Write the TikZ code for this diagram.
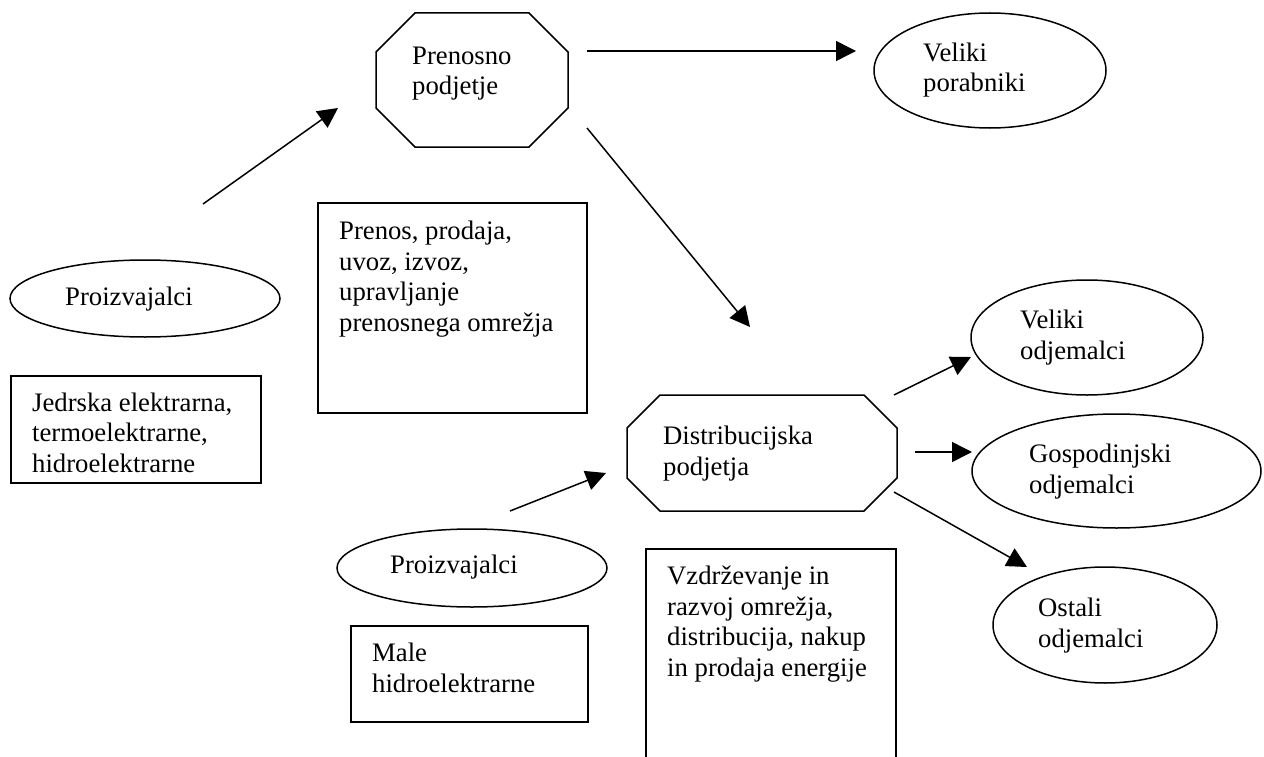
\documentclass[tikz,border=0pt]{standalone}
\usepackage{fontspec}
\setmainfont{Liberation Serif}
\usetikzlibrary{shapes.geometric,arrows.meta}
\begin{document}
\begin{tikzpicture}[x=1bp,y=-1bp,
  ln/.style={line width=1.5bp},
  arr/.style={line width=1.5bp,-{Triangle[length=20bp,width=20bp]}},
  ell/.style={draw,ln,ellipse,inner sep=0pt,outer sep=0pt},
  rbox/.style={draw,ln,rectangle,inner sep=0pt,outer sep=0pt},
  hold/.style={rectangle,inner sep=0pt,outer sep=0pt},
  txt/.style={anchor=base west,align=left,inner sep=0pt,font=\fontsize{26.8pt}{30.5pt}\selectfont}]
\useasboundingbox (0,0) rectangle (1264,757);
\clip (0,0) rectangle (1264,757);

% octagons
\node[hold,minimum width=192bp,minimum height=134bp] (pren) at (472,80) {};
\draw[ln] ([xshift=39bp]pren.north west) -- ([xshift=-39bp]pren.north east) -- ([yshift=-39bp]pren.north east) -- ([yshift=39bp]pren.south east) -- ([xshift=-39bp]pren.south east) -- ([xshift=39bp]pren.south west) -- ([yshift=39bp]pren.south west) -- ([yshift=-39bp]pren.north west) -- cycle;
\node[hold,minimum width=270bp,minimum height=116bp] (dist) at (762,453) {};
\draw[ln] ([xshift=33bp]dist.north west) -- ([xshift=-33bp]dist.north east) -- ([yshift=-33bp]dist.north east) -- ([yshift=33bp]dist.south east) -- ([xshift=-33bp]dist.south east) -- ([xshift=33bp]dist.south west) -- ([yshift=33bp]dist.south west) -- ([yshift=-33bp]dist.north west) -- cycle;

% ellipses
\node[ell,minimum width=270bp,minimum height=77bp] (pro1) at (145,298.5) {};
\node[ell,minimum width=270bp,minimum height=78bp] (pro2) at (472,568) {};
\node[ell,minimum width=232bp,minimum height=115bp] (velpor) at (990,70.5) {};
\node[ell,minimum width=232bp,minimum height=115bp] (velodj) at (1087,337.5) {};
\node[ell,minimum width=289bp,minimum height=114bp] (gosp) at (1116.5,471) {};
\node[ell,minimum width=224bp,minimum height=116bp] (ost) at (1105,625) {};

% boxes
\node[rbox,minimum width=269bp,minimum height=210bp] (prenbox) at (452.5,308) {};
\node[rbox,minimum width=250bp,minimum height=107bp] (jedbox) at (136,429.5) {};
\node[rbox,minimum width=237bp,minimum height=96bp] (malebox) at (469.5,674) {};
\node[rbox,minimum width=250bp,minimum height=251bp] (vzdbox) at (771,674.5) {};

% texts (anchor at baseline of the last line)
\node[txt] (tpren) at (412,95) {Prenosno\\podjetje};
\node[txt] (tdist) at (663,475) {Distribucijska\\podjetja};
\node[txt] (tpro1) at (65,305) {Proizvajalci};
\node[txt] (tpro2) at (390,573) {Proizvajalci};
\node[txt] (tvelpor) at (923,92) {Veliki\\porabniki};
\node[txt] (tvelodj) at (1020,359) {Veliki\\odjemalci};
\node[txt] (tgosp) at (1029,493) {Gospodinjski\\odjemalci};
\node[txt] (tost) at (1038,647) {Ostali\\odjemalci};
\node[txt] (tprenbox) at (339,331) {Prenos, prodaja,\\uvoz, izvoz,\\upravljanje\\prenosnega omrežja};
\node[txt] (tjed) at (32,472) {Jedrska elektrarna,\\termoelektrarne,\\hidroelektrarne};
\node[txt] (tmale) at (372,692) {Male\\hidroelektrarne};
\node[txt] (tvzd) at (667,676) {Vzdrževanje in\\razvoj omrežja,\\distribucija, nakup\\in prodaja energije};

% arrow end points
\coordinate (a1s) at (203,204);  \coordinate (a1e) at (338,108);
\coordinate (a2s) at (587,51);   \coordinate (a2e) at (856,51);
\coordinate (a3s) at (587,128);  \coordinate (a3e) at (750,327);
\coordinate (a4s) at (510,511);  \coordinate (a4e) at (606,473);
\coordinate (a5s) at (894,395);  \coordinate (a5e) at (971,357);
\coordinate (a6s) at (915,452);  \coordinate (a6e) at (972,452);
\coordinate (a7s) at (894,492);  \coordinate (a7e) at (1027,567);

\draw[arr] (a1s) -- (a1e);
\draw[arr] (a2s) -- (a2e);
\draw[arr] (a3s) -- (a3e);
\draw[arr] (a4s) -- (a4e);
\draw[arr] (a5s) -- (a5e);
\draw[arr] (a6s) -- (a6e);
\draw[arr] (a7s) -- (a7e);
\end{tikzpicture}
\end{document}
